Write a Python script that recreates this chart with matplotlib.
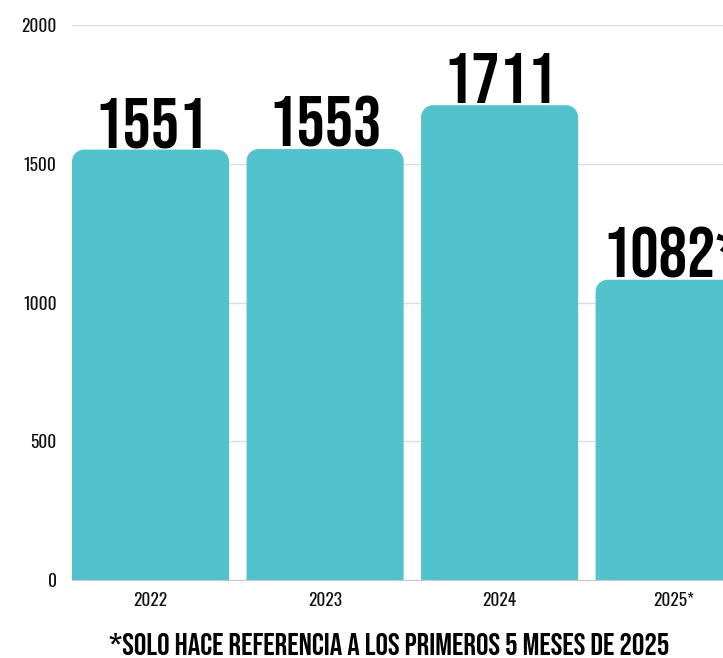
import numpy as np
import matplotlib
matplotlib.use("Agg")
import matplotlib.pyplot as plt
from matplotlib.path import Path
from matplotlib.patches import PathPatch

years = ["2022", "2023", "2024", "2025*"]
values = [1551, 1553, 1711, 1082]
value_labels = ["1551", "1553", "1711", "1082*"]
yticks = [0, 500, 1000, 1500, 2000]
note = "*SOLO HACE REFERENCIA A LOS PRIMEROS 5 MESES DE 2025"

bar_color = "#52c3cd"
head_font = ["Bebas Neue", "DejaVu Sans"]
tick_font = ["Oswald", "DejaVu Sans"]

fig = plt.figure(figsize=(7.23, 6.58), dpi=100)
ax = fig.add_axes([72 / 723, 1 - 580 / 658, 1 - 72 / 723, 555 / 658])

x = np.arange(len(years))
bars = ax.bar(x, values, width=0.9, color=bar_color)
ax.set_xlim(-0.45, 3.28)
ax.set_ylim(0, 2000)

# rounded top corners: rebuild each bar as a path
rx, ry = 12 / 174.5, 12 / 0.2775
k = 0.55
for b in bars:
    x0, y0 = b.get_x(), b.get_y()
    x1, y1 = x0 + b.get_width(), y0 + b.get_height()
    verts = [(x0, y0), (x0, y1 - ry),
             (x0, y1 - ry * (1 - k)), (x0 + rx * (1 - k), y1), (x0 + rx, y1),
             (x1 - rx, y1),
             (x1 - rx * (1 - k), y1), (x1, y1 - ry * (1 - k)), (x1, y1 - ry),
             (x1, y0), (x0, y0)]
    codes = [Path.MOVETO, Path.LINETO,
             Path.CURVE4, Path.CURVE4, Path.CURVE4,
             Path.LINETO,
             Path.CURVE4, Path.CURVE4, Path.CURVE4,
             Path.LINETO, Path.CLOSEPOLY]
    ax.add_patch(PathPatch(Path(verts, codes), facecolor=bar_color, edgecolor="none", zorder=2))
    b.set_visible(False)

for xi, v, lab in zip(x, values, value_labels):
    ax.annotate(lab, (xi, v), xytext=(0, 1.5), textcoords="offset points",
                ha="center", va="baseline", fontsize=51,
                family=head_font, color="black", clip_on=False)

ax.set_yticks(yticks)
ax.set_xticks(x)
ax.set_xticklabels(years)
ax.tick_params(length=0, labelsize=12.5)
ax.tick_params(axis="y", pad=11)
ax.tick_params(axis="x", pad=9)
for t in ax.get_xticklabels() + ax.get_yticklabels():
    t.set_family(tick_font)
    t.set_color("#111111")
ax.grid(axis="y", color="#dddddd", linewidth=1, zorder=0)
ax.set_axisbelow(True)
for s in ["top", "right", "left"]:
    ax.spines[s].set_visible(False)
ax.spines["bottom"].set_color("#c8c8c8")

fig.text(389 / 723, 1 - 655 / 658, note, ha="center", va="baseline",
         fontsize=22.5, family=head_font, color="black")

fig.savefig("out.png", dpi=100)
